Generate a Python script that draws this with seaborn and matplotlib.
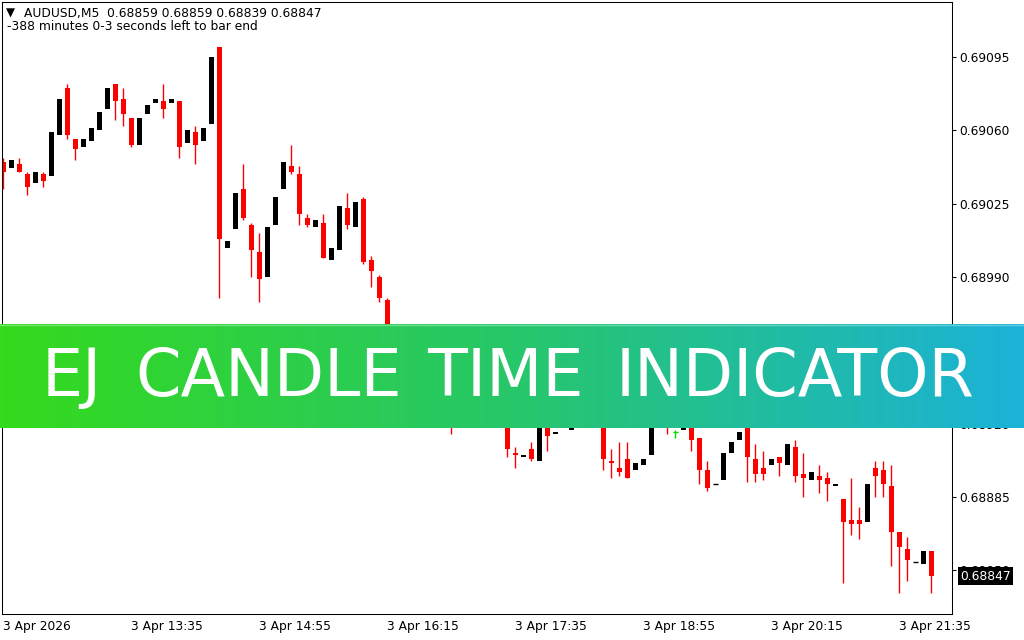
import numpy as np
import pandas as pd
import matplotlib
matplotlib.use("Agg")
import matplotlib.pyplot as plt
import seaborn as sns
from matplotlib.colors import LinearSegmentedColormap
from matplotlib.transforms import blended_transform_factory

# AUDUSD M5 candles (bars under the banner are guesses)
opens = [0.69045, 0.69042, 0.69044, 0.69039, 0.69035, 0.69039, 0.69038, 0.69058, 0.69080, 0.69056,
         0.69052, 0.69055, 0.69060, 0.69070, 0.69082, 0.69075, 0.69066, 0.69053, 0.69068, 0.69073,
         0.69074, 0.69073, 0.69074, 0.69054, 0.69059, 0.69055, 0.69063, 0.69100, 0.69004, 0.69013,
         0.69032, 0.69015, 0.69002, 0.68990, 0.69015, 0.69032, 0.69043, 0.69039, 0.69018, 0.69014,
         0.69016, 0.68998, 0.69003, 0.69023, 0.69014, 0.69027, 0.68998, 0.68990, 0.68979, 0.68961,
         0.68950, 0.68955, 0.68940, 0.68932, 0.68938, 0.68930, 0.68925, 0.68921, 0.68930, 0.68936,
         0.68928, 0.68934, 0.68926, 0.68930, 0.68906, 0.68904, 0.68908, 0.68902, 0.68933, 0.68915,
         0.68919, 0.68917, 0.68921, 0.68919, 0.68930, 0.68936, 0.68902, 0.68899, 0.68903, 0.68898,
         0.68900, 0.68905, 0.68925, 0.68922, 0.68916, 0.68917, 0.68920, 0.68913, 0.68898, 0.68891,
         0.68893, 0.68906, 0.68912, 0.68922, 0.68903, 0.68899, 0.68900, 0.68904, 0.68900, 0.68909,
         0.68896, 0.68893, 0.68895, 0.68894, 0.68890, 0.68884, 0.68874, 0.68874, 0.68873, 0.68899,
         0.68898, 0.68890, 0.68868, 0.68860, 0.68854, 0.68853, 0.68859]
highs = [0.69047, 0.69046, 0.69047, 0.69040, 0.69040, 0.69040, 0.69059, 0.69075, 0.69082, 0.69056,
         0.69056, 0.69061, 0.69069, 0.69080, 0.69082, 0.69080, 0.69066, 0.69066, 0.69072, 0.69075,
         0.69082, 0.69075, 0.69074, 0.69060, 0.69062, 0.69061, 0.69095, 0.69100, 0.69007, 0.69030,
         0.69044, 0.69016, 0.69011, 0.69014, 0.69028, 0.69045, 0.69053, 0.69043, 0.69020, 0.69017,
         0.69020, 0.69004, 0.69024, 0.69030, 0.69026, 0.69028, 0.69000, 0.68991, 0.68980, 0.68964,
         0.68955, 0.68958, 0.68944, 0.68938, 0.68942, 0.68933, 0.68928, 0.68930, 0.68936, 0.68940,
         0.68934, 0.68937, 0.68931, 0.68933, 0.68909, 0.68905, 0.68911, 0.68935, 0.68936, 0.68916,
         0.68923, 0.68921, 0.68925, 0.68930, 0.68936, 0.68938, 0.68908, 0.68911, 0.68911, 0.68901,
         0.68903, 0.68925, 0.68928, 0.68924, 0.68917, 0.68922, 0.68922, 0.68913, 0.68902, 0.68891,
         0.68906, 0.68911, 0.68916, 0.68925, 0.68910, 0.68907, 0.68903, 0.68904, 0.68910, 0.68912,
         0.68906, 0.68897, 0.68900, 0.68897, 0.68891, 0.68884, 0.68894, 0.68880, 0.68891, 0.68902,
         0.68902, 0.68900, 0.68868, 0.68866, 0.68854, 0.68859, 0.68859]
lows = [0.69032, 0.69042, 0.69040, 0.69029, 0.69035, 0.69033, 0.69038, 0.69058, 0.69056, 0.69046,
        0.69052, 0.69055, 0.69060, 0.69070, 0.69065, 0.69062, 0.69052, 0.69053, 0.69068, 0.69073,
        0.69066, 0.69073, 0.69047, 0.69054, 0.69044, 0.69055, 0.69063, 0.68980, 0.69004, 0.69013,
        0.69017, 0.68990, 0.68978, 0.68990, 0.69015, 0.69032, 0.69039, 0.69015, 0.69014, 0.69014,
        0.68999, 0.68998, 0.69003, 0.69013, 0.69014, 0.68996, 0.68985, 0.68978, 0.68955, 0.68946,
        0.68950, 0.68936, 0.68928, 0.68932, 0.68926, 0.68922, 0.68915, 0.68921, 0.68930, 0.68924,
        0.68928, 0.68922, 0.68926, 0.68904, 0.68899, 0.68904, 0.68902, 0.68902, 0.68907, 0.68915,
        0.68919, 0.68917, 0.68919, 0.68919, 0.68930, 0.68898, 0.68894, 0.68895, 0.68894, 0.68898,
        0.68900, 0.68905, 0.68920, 0.68915, 0.68913, 0.68917, 0.68907, 0.68891, 0.68888, 0.68891,
        0.68893, 0.68906, 0.68912, 0.68892, 0.68892, 0.68893, 0.68900, 0.68895, 0.68900, 0.68892,
        0.68885, 0.68893, 0.68887, 0.68883, 0.68890, 0.68844, 0.68867, 0.68865, 0.68873, 0.68885,
        0.68885, 0.68852, 0.68839, 0.68845, 0.68854, 0.68853, 0.68839]
closes = [0.69040, 0.69046, 0.69040, 0.69033, 0.69040, 0.69036, 0.69059, 0.69075, 0.69058, 0.69051,
          0.69056, 0.69061, 0.69069, 0.69080, 0.69074, 0.69068, 0.69053, 0.69066, 0.69072, 0.69075,
          0.69070, 0.69075, 0.69052, 0.69060, 0.69053, 0.69061, 0.69095, 0.69008, 0.69007, 0.69030,
          0.69018, 0.69003, 0.68989, 0.69014, 0.69028, 0.69045, 0.69040, 0.69020, 0.69015, 0.69017,
          0.68999, 0.69004, 0.69024, 0.69015, 0.69026, 0.68997, 0.68993, 0.68980, 0.68960, 0.68950,
          0.68955, 0.68940, 0.68932, 0.68938, 0.68930, 0.68925, 0.68920, 0.68930, 0.68936, 0.68928,
          0.68934, 0.68926, 0.68931, 0.68908, 0.68905, 0.68905, 0.68903, 0.68935, 0.68914, 0.68916,
          0.68923, 0.68921, 0.68919, 0.68930, 0.68936, 0.68903, 0.68901, 0.68897, 0.68894, 0.68901,
          0.68903, 0.68925, 0.68922, 0.68920, 0.68916, 0.68922, 0.68912, 0.68898, 0.68889, 0.68891,
          0.68906, 0.68911, 0.68916, 0.68904, 0.68896, 0.68896, 0.68903, 0.68901, 0.68910, 0.68895,
          0.68894, 0.68897, 0.68893, 0.68891, 0.68891, 0.68873, 0.68872, 0.68872, 0.68891, 0.68895,
          0.68891, 0.68868, 0.68861, 0.68855, 0.68854, 0.68859, 0.68847]

time_labels = ["3 Apr 2026", "3 Apr 13:35", "3 Apr 14:55", "3 Apr 16:15",
               "3 Apr 17:35", "3 Apr 18:55", "3 Apr 20:15", "3 Apr 21:35"]
label_bars = [0, 16, 32, 48, 64, 80, 96, 112]
price_ticks = [0.69095, 0.69060, 0.69025, 0.68990, 0.68955, 0.68920, 0.68885, 0.68850]
symbol = "AUDUSD,M5"
timer_text = "-388 minutes 0-3 seconds left to bar end"
banner_words = ["EJ", "CANDLE", "TIME", "INDICATOR"]
banner_centers = [72, 269, 505, 795]   # pixel x centre of each word

df = pd.DataFrame({"open": opens, "high": highs, "low": lows, "close": closes})
df["bar"] = np.arange(len(df))

sns.set_theme(style="white")
plt.rcParams["font.family"] = ["DejaVu Sans"]
small = 8.8

W, H = 1024, 640
fig = plt.figure(figsize=(W / 100, H / 100), dpi=100)
ax = fig.add_axes([2 / W, 1 - 613.5 / H, 950 / W, 611.5 / H])
ax.set_facecolor("white")

up = df[df.close > df.open]
down = df[df.close < df.open]
doji = df[df.close == df.open]

# wicks under the bodies; bull wicks are white on this chart so they vanish
ax.vlines(down.bar, down.low, down.high, color="#ff0000", lw=1.0, zorder=1)
ax.vlines(up.bar, up.low, up.high, color="white", lw=1.0, zorder=1)
ax.bar(down.bar, down.open - down.close, bottom=down.close, width=0.62, color="#ff0000",
       linewidth=0, antialiased=False, zorder=2)
ax.bar(up.bar, up.close - up.open, bottom=up.open, width=0.62, color="black",
       linewidth=0, antialiased=False, zorder=2)
for _, r in doji.iterrows():
    c = "#00e000" if r.high > r.low else "black"
    ax.vlines(r.bar, r.low, r.high, color=c, lw=1.0, zorder=2)
    ax.hlines(r.open, r.bar - 0.31, r.bar + 0.31, color=c, lw=1.0, zorder=2)

ax.set_xlim(-0.1625, 118.59)
ax.set_ylim(0.688293, 0.691213)

ax.set_xticks(label_bars)
ax.set_xticklabels(time_labels, ha="left")
ax.set_yticks(price_ticks)
ax.set_yticklabels([f"{p:.5f}" for p in price_ticks])
ax.yaxis.tick_right()
ax.tick_params(axis="x", direction="out", length=3, width=0.75, pad=2, labelsize=small, colors="black")
ax.tick_params(axis="y", direction="out", length=3, width=0.75, pad=2, labelsize=small, colors="black")
for s in ax.spines.values():
    s.set_color("black")
    s.set_linewidth(0.75)
ax.grid(False)

# current price box on the right scale
trans = blended_transform_factory(ax.transAxes, ax.transData)
last = df.iloc[-1]
ax.text(1.0085, last.close, f"{last.close:.5f}", transform=trans, ha="left", va="center",
        fontsize=small, color="white", clip_on=False, zorder=5,
        bbox=dict(boxstyle="square,pad=0.2", fc="black", ec="none"))

# header lines
fig.text(5.5 / W, 1 - 13 / H, "\u25bc", fontsize=8.5, va="center", ha="left", color="black")
fig.text(24 / W, 1 - 14 / H,
         f"{symbol}  {last.open:.5f} {last.high:.5f} {last.low:.5f} {last.close:.5f}",
         fontsize=small, va="center", ha="left", color="black")
fig.text(7 / W, 1 - 27 / H, timer_text, fontsize=small, va="center", ha="left", color="black")

# gradient banner across the chart
cmap = LinearSegmentedColormap.from_list("banner", ["#34da1c", "#27c76a", "#1bb2d8"])
bax = fig.add_axes([0, 1 - 428.5 / H, 1, 104.5 / H])
bax.imshow(np.linspace(0, 1, 512).reshape(1, -1), aspect="auto", cmap=cmap, extent=[0, 1, 0, 1])
bax.axhline(0.995, color="white", lw=1, alpha=0.35)
bax.set_axis_off()

for word, cx in zip(banner_words, banner_centers):
    fig.text(cx / W, 1 - 396 / H, word, fontsize=47, color="white", ha="center",
             va="baseline", zorder=10)

fig.savefig("out.png", dpi=100)
